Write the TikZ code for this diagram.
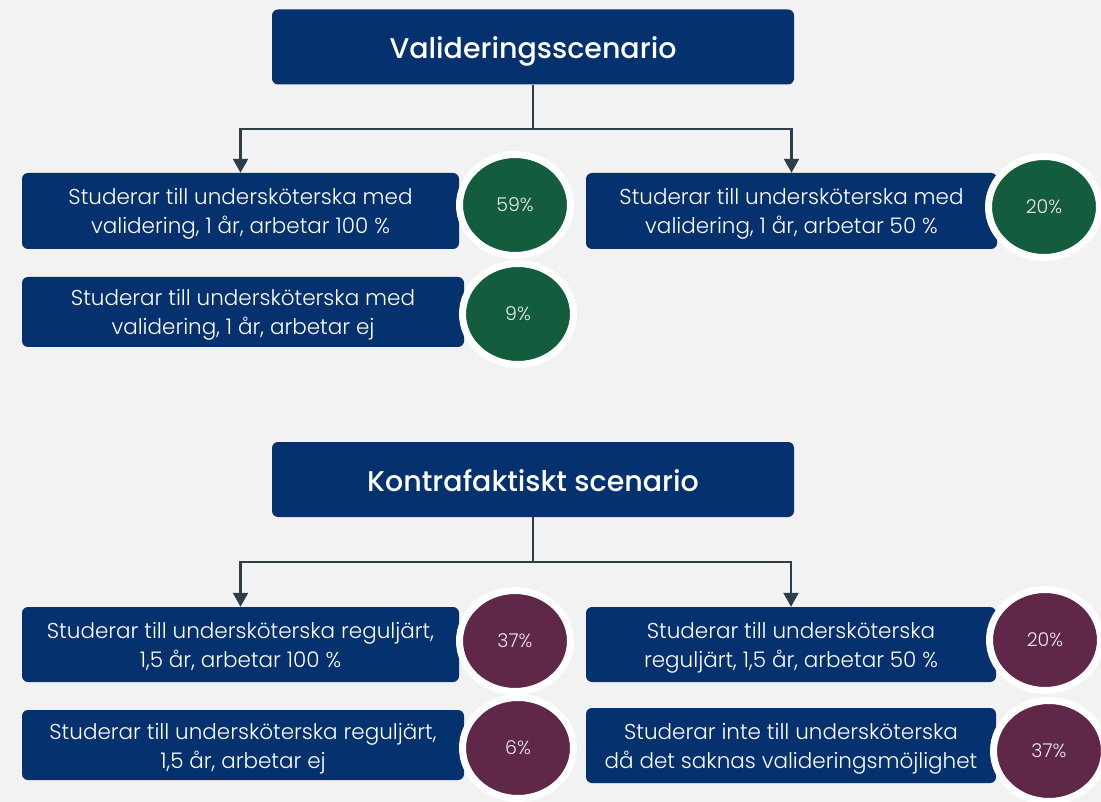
\documentclass[tikz,border=0pt]{standalone}
\usepackage{fontspec}
\IfFontExistsTF{Poppins Light}{\setmainfont{Poppins Light}}{\setmainfont{Poppins}}
\IfFontExistsTF{Poppins Medium}{\newfontfamily\headfont{Poppins Medium}}{\newfontfamily\headfont{Poppins}}
\usepackage{tikz}
\definecolor{boxnavy}{RGB}{5, 49, 110}
\definecolor{pctgreen}{RGB}{20, 92, 62}
\definecolor{pctpurple}{RGB}{95, 40, 73}
\definecolor{linkslate}{RGB}{44, 62, 72}
\definecolor{pagegray}{RGB}{242, 242, 242}
\usetikzlibrary{shapes.geometric, arrows.meta, shadows}

\begin{document}
\begin{tikzpicture}[
    x=1pt, y=-1pt,
    headbox/.style={rectangle, rounded corners=6pt, fill=boxnavy, text=white, minimum width=522pt,
                  minimum height=75pt, inner sep=0pt, text height=30pt, text depth=6pt,
                  font=\headfont\fontsize{28.5}{32}\selectfont},
    optbox/.style={rectangle, rounded corners=6pt, fill=boxnavy, text=white, minimum height=75pt,
                  inner sep=0pt, align=center, text height=52pt, text depth=6pt,
                  font=\fontsize{21.5}{29}\selectfont},
    pct/.style={ellipse, minimum width=111pt, minimum height=101pt, inner sep=0pt, draw=white,
                  line width=7pt, text=white!92!black, font=\fontsize{19}{21}\selectfont,
                  drop shadow={shadow xshift=1pt, shadow yshift=-3pt, opacity=0.25}},
    flow/.style={draw=linkslate, line width=2.2pt, -{Triangle[width=15pt, length=14pt]}}
]
    % Page
    \fill[pagegray] (0,0) rectangle (1101,802);
    \useasboundingbox (0,0) rectangle (1101,802);

    % Validation scenario
    \node[headbox] (valtitle) at (533,47) {Valideringsscenario};
    \node[optbox, minimum width=437pt, minimum height=76pt] (valfull) at (240.5,211) {Studerar till undersköterska med\\validering, 1 år, arbetar 100 \%};
    \node[optbox, minimum width=411pt, minimum height=76pt] (valhalf) at (791.5,211) {Studerar till undersköterska med\\validering, 1 år, arbetar 50 \%};
    \node[optbox, minimum width=442pt, minimum height=70pt] (valnone) at (243,312) {Studerar till undersköterska med\\validering, 1 år, arbetar ej};

    \node[pct, fill=pctgreen] (valfullpct) at (515,205) {59\%};
    \node[pct, fill=pctgreen] (valhalfpct) at (1044,207) {20\%};
    \node[pct, fill=pctgreen] (valnonepct) at (518,314) {9\%};

    \coordinate (valfork) at (533,129);
    \draw[flow] (valtitle.south) -- (valfork) -| (valfull.north);
    \draw[flow] (valfork) -| (valhalf.north);

    % Counterfactual scenario
    \node[headbox] (cftitle) at (533,479.5) {Kontrafaktiskt scenario};
    \node[optbox, minimum width=437pt] (cffull) at (240.5,644.5) {Studerar till undersköterska reguljärt,\\1,5 år, arbetar 100 \%};
    \node[optbox, minimum width=410pt] (cfhalf) at (791,644.5) {Studerar till undersköterska\\reguljärt, 1,5 år, arbetar 50 \%};
    \node[optbox, minimum width=442pt, minimum height=70pt] (cfnone) at (243,745) {Studerar till undersköterska reguljärt,\\1,5 år, arbetar ej};
    \node[optbox, minimum width=410pt] (cfnot) at (791,745.5) {Studerar inte till undersköterska\\då det saknas valideringsmöjlighet};

    \node[pct, fill=pctpurple] (cffullpct) at (515,641) {37\%};
    \node[pct, fill=pctpurple] (cfhalfpct) at (1045,640) {20\%};
    \node[pct, fill=pctpurple] (cfnonepct) at (518,748) {6\%};
    \node[pct, fill=pctpurple] (cfnotpct) at (1049,751) {37\%};

    \coordinate (cffork) at (533,562);
    \draw[flow] (cftitle.south) -- (cffork) -| (cffull.north);
    \draw[flow] (cffork) -| (cfhalf.north);
\end{tikzpicture}
\end{document}
